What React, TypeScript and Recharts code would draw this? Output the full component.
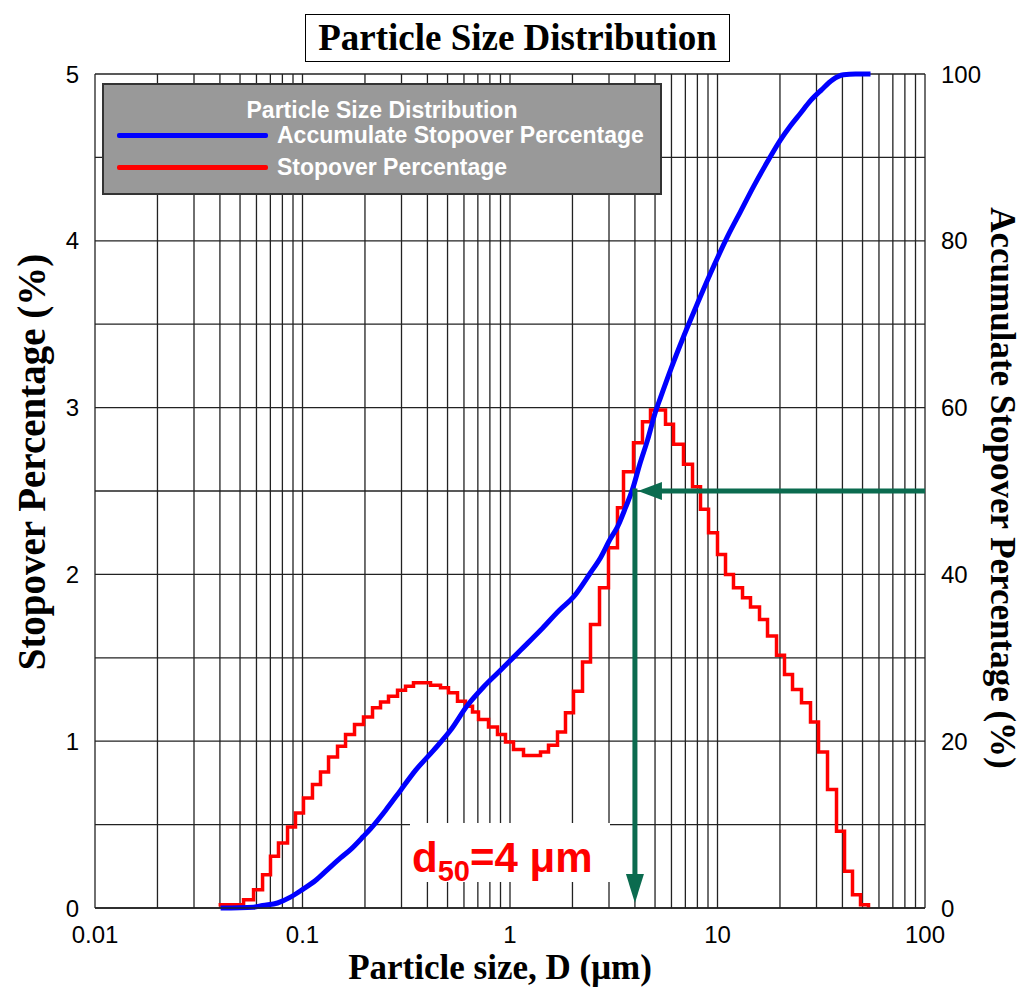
import {
  CartesianGrid,
  Legend,
  Line,
  LineChart,
  ReferenceLine,
  XAxis,
  YAxis,
} from "recharts";

// particle size axis (log), grid at every 1..9 x decade
const sizeTicks = [
  0.01, 0.02, 0.03, 0.04, 0.05, 0.06, 0.07, 0.08, 0.09,
  0.1, 0.2, 0.3, 0.4, 0.5, 0.6, 0.7, 0.8, 0.9,
  1, 2, 3, 4, 5, 6, 7, 8, 9,
  10, 20, 30, 40, 50, 60, 70, 80, 90, 100,
];
const sizeLabels = [0.01, 0.1, 1, 10, 100];
const leftTicks = [0, 0.5, 1, 1.5, 2, 2.5, 3, 3.5, 4, 4.5, 5];
const rightTicks = [0, 10, 20, 30, 40, 50, 60, 70, 80, 90, 100];

// stopover percentage (%), histogram steps: left edge of each bin
const stopoverSize = [
  0.0394, 0.052, 0.0581, 0.0642, 0.0701, 0.0766, 0.0847, 0.0925, 0.1011, 0.1117,
  0.1221, 0.1335, 0.1475, 0.1612, 0.1781, 0.1968, 0.2175, 0.2377, 0.2597, 0.2871,
  0.3137, 0.3427, 0.4139, 0.4625, 0.5053, 0.5585, 0.6103, 0.6597, 0.705, 0.7878,
  0.8705, 0.9513, 1.0396, 1.1618, 1.4029, 1.533, 1.694, 1.851, 2.023, 2.236,
  2.443, 2.7, 2.983, 3.296, 3.524, 3.937, 4.35, 4.755, 5.616, 6.137,
  6.858, 7.578, 8.281, 9.053, 10.0, 10.93, 11.94, 13.2, 14.42, 15.94,
  17.42, 19.25, 21.03, 22.99, 25.4, 28.07, 30.68, 33.9, 37.46, 40.94,
  44.73, 48.89, 53.43,
];
const stopoverPct = [
  0.02, 0.05, 0.11, 0.2, 0.31, 0.39, 0.485, 0.57, 0.66, 0.74,
  0.815, 0.905, 0.97, 1.04, 1.1, 1.145, 1.2, 1.235, 1.27, 1.305,
  1.33, 1.35, 1.335, 1.32, 1.29, 1.24, 1.21, 1.175, 1.13, 1.085,
  1.04, 0.995, 0.95, 0.915, 0.935, 0.975, 1.055, 1.17, 1.3, 1.475,
  1.7, 1.92, 2.16, 2.4, 2.615, 2.79, 2.915, 2.985, 2.9, 2.78,
  2.66, 2.525, 2.39, 2.25, 2.12, 2.0, 1.92, 1.86, 1.805, 1.73,
  1.63, 1.515, 1.4, 1.31, 1.23, 1.115, 0.935, 0.71, 0.46, 0.22,
  0.08, 0.02, 0,
];

// accumulate stopover percentage (%)
const cumulativeSize = [
  0.0403, 0.0581, 0.0642, 0.0758, 0.0875, 0.1011, 0.1155, 0.132, 0.1525, 0.1703,
  0.1968, 0.2127, 0.2512, 0.2967, 0.3504, 0.4279, 0.5167, 0.624, 0.7453, 0.9,
  1.1236, 1.4029, 1.7294, 2.023, 2.443, 2.73, 3.05, 3.296, 3.603, 3.894,
  4.231, 4.6, 5.026, 5.313, 5.935, 6.858, 8.01, 9.253, 11.17, 12.91,
  14.91, 17.42, 20.12, 22.48, 25.12, 28.07, 31.71, 35.83, 40.49, 46.25,
  54.63,
];
const cumulativePct = [
  0, 0.1, 0.3, 0.6, 1.3, 2.3, 3.3, 4.6, 6.0, 7.0,
  8.6, 9.5, 11.7, 14.1, 16.5, 18.9, 21.3, 24.3, 26.5, 28.5,
  30.9, 33.3, 35.7, 37.3, 40.2, 42.0, 44.3, 45.7, 48.0, 50.2,
  53.3, 56.1, 59.5, 61.2, 64.5, 68.5, 72.5, 76.1, 80.5, 83.5,
  86.5, 89.5, 92.1, 93.8, 95.3, 96.8, 98.1, 99.3, 99.9, 100,
  100,
];

const d50 = 4;
const halfPct = 50;

const stopoverData = stopoverSize.map((d, i) => ({ d, v: stopoverPct[i] }));
const cumulativeData = cumulativeSize.map((d, i) => ({ d, v: cumulativePct[i] }));

const BLUE = "#0000ff";
const RED = "#ff0000";
const GREEN = "#0b6b4f";
const SANS = "'Liberation Sans', Arial, sans-serif";
const SERIF = "'Liberation Serif', 'Times New Roman', serif";

const tickStyle = { fill: "#000", fontSize: 24, fontFamily: SANS };

function LeftArrow(props: any) {
  const xa = Math.min(props.x1, props.x2);
  const xb = Math.max(props.x1, props.x2);
  const y = props.y1;
  return (
    <g>
      <line x1={xa + 22} y1={y} x2={xb} y2={y} stroke={GREEN} strokeWidth={5} />
      <polygon points={`${xa + 3},${y} ${xa + 27},${y - 9} ${xa + 27},${y + 9}`} fill={GREEN} />
    </g>
  );
}

function DownArrow(props: any) {
  const ya = Math.min(props.y1, props.y2);
  const yb = Math.max(props.y1, props.y2);
  const x = props.x1;
  return (
    <g>
      <line x1={x} y1={ya - 2.5} x2={x} y2={yb - 30} stroke={GREEN} strokeWidth={5} />
      <polygon points={`${x},${yb - 5} ${x - 9},${yb - 34} ${x + 9},${yb - 34}`} fill={GREEN} />
    </g>
  );
}

function LegendBox() {
  const text = {
    position: "absolute" as const,
    fontSize: 23,
    lineHeight: "23px",
    whiteSpace: "nowrap" as const,
  };
  return (
    <div
      style={{
        position: "relative",
        width: 560,
        height: 112,
        boxSizing: "border-box",
        background: "#999999",
        border: "2px solid #333",
        color: "#fff",
        fontFamily: SANS,
        fontWeight: "bold",
      }}
    >
      <div style={{ ...text, top: 14, left: 0, width: "100%", textAlign: "center" }}>
        Particle Size Distribution
      </div>
      <div style={{ position: "absolute", top: 48, left: 13, width: 151, height: 5, background: BLUE, borderRadius: 2 }} />
      <div style={{ ...text, top: 39, left: 173 }}>Accumulate Stopover Percentage</div>
      <div style={{ position: "absolute", top: 80, left: 13, width: 151, height: 5, background: RED, borderRadius: 2 }} />
      <div style={{ ...text, top: 71, left: 173 }}>Stopover Percentage</div>
    </div>
  );
}

export default function App() {
  return (
    <div style={{ position: "absolute", left: 0, top: 0, width: 1021, height: 991, background: "#fff" }}>
      <LineChart
        width={1021}
        height={991}
        margin={{ top: 74, right: 36, bottom: 33, left: 35 }}
      >
        <CartesianGrid
          yAxisId="left"
          stroke="#222"
          strokeWidth={1.3}
          fill="#fff"
        />
        <XAxis
          dataKey="d"
          type="number"
          scale="log"
          domain={[0.01, 100]}
          ticks={sizeTicks}
          interval={0}
          tickFormatter={(v: number) => (sizeLabels.includes(v) ? String(v) : "")}
          tick={tickStyle}
          tickLine={false}
          tickMargin={12}
          axisLine={{ stroke: "#222", strokeWidth: 1.3 }}
          height={50}
          allowDuplicatedCategory={false}
        />
        <YAxis
          yAxisId="left"
          domain={[0, 5]}
          ticks={leftTicks}
          interval={0}
          tickFormatter={(v: number) => (Number.isInteger(v) ? String(v) : "")}
          tick={tickStyle}
          tickLine={false}
          axisLine={false}
          tickMargin={10}
          width={60}
        />
        <YAxis
          yAxisId="right"
          orientation="right"
          domain={[0, 100]}
          ticks={rightTicks}
          interval={0}
          tickFormatter={(v: number) => (v % 20 === 0 ? String(v) : "")}
          tick={tickStyle}
          tickLine={false}
          axisLine={false}
          tickMargin={10}
          width={60}
        />
        <Line
          yAxisId="left"
          data={stopoverData}
          dataKey="v"
          name="Stopover Percentage"
          type="stepAfter"
          stroke={RED}
          strokeWidth={3.5}
          dot={false}
          isAnimationActive={false}
        />
        <Line
          yAxisId="right"
          data={cumulativeData}
          dataKey="v"
          name="Accumulate Stopover Percentage"
          type="monotone"
          stroke={BLUE}
          strokeWidth={5}
          dot={false}
          isAnimationActive={false}
        />
        <ReferenceLine
          yAxisId="right"
          segment={[{ x: d50, y: halfPct }, { x: 100, y: halfPct }]}
          shape={LeftArrow}
        />
        <ReferenceLine
          yAxisId="right"
          segment={[{ x: d50, y: halfPct }, { x: d50, y: 0 }]}
          shape={DownArrow}
        />
        <Legend
          layout="horizontal"
          verticalAlign="middle"
          align="center"
          content={() => <LegendBox />}
          wrapperStyle={{ left: 102, top: 83, width: 560, height: 112 }}
        />
      </LineChart>

      {/* chart title */}
      <div
        style={{
          position: "absolute",
          left: 305,
          top: 14,
          width: 425,
          height: 48,
          boxSizing: "border-box",
          border: "1.5px solid #000",
          background: "#fff",
          fontFamily: SERIF,
          fontWeight: "bold",
          fontSize: 37,
          lineHeight: "45px",
          textAlign: "center",
          whiteSpace: "nowrap",
        }}
      >
        Particle Size Distribution
      </div>

      {/* d50 annotation */}
      <div
        style={{
          position: "absolute",
          left: 410,
          top: 823,
          width: 200,
          height: 59,
          background: "#fff",
        }}
      >
        <div
          style={{
            position: "absolute",
            left: 2,
            top: 14,
            color: RED,
            fontFamily: SANS,
            fontWeight: "bold",
            fontSize: 42,
            lineHeight: "42px",
            whiteSpace: "nowrap",
          }}
        >
          d<span style={{ fontSize: 29, position: "relative", top: 9 }}>50</span>=4 μm
        </div>
      </div>

      {/* axis titles */}
      <div
        style={{
          position: "absolute",
          left: 500,
          top: 968,
          transform: "translate(-50%, -50%)",
          fontFamily: SERIF,
          fontWeight: "bold",
          fontSize: 35,
          whiteSpace: "nowrap",
        }}
      >
        Particle size, D (μm)
      </div>
      <div
        style={{
          position: "absolute",
          left: 31,
          top: 462,
          transform: "translate(-50%, -50%) rotate(-90deg)",
          fontFamily: SERIF,
          fontWeight: "bold",
          fontSize: 39,
          whiteSpace: "nowrap",
        }}
      >
        Stopover Percentage (%)
      </div>
      <div
        style={{
          position: "absolute",
          left: 1002,
          top: 488,
          transform: "translate(-50%, -50%) rotate(90deg)",
          fontFamily: SERIF,
          fontWeight: "bold",
          fontSize: 35,
          whiteSpace: "nowrap",
        }}
      >
        Accumulate Stopover Percentage (%)
      </div>
    </div>
  );
}
